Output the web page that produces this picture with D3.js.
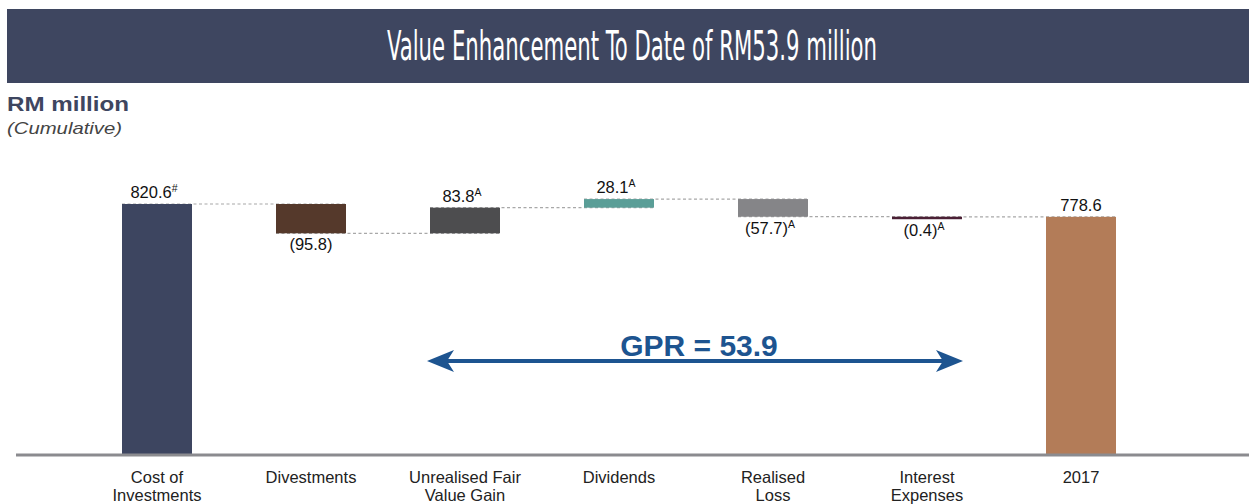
<!DOCTYPE html>
<html>
<head>
<meta charset="utf-8">
<script src="https://cdn.jsdelivr.net/npm/d3@7"></script>
<style>
  html, body { margin: 0; padding: 0; background: #ffffff; }
  svg { display: block; }
</style>
</head>
<body>
<svg id="chart" width="1249" height="504"></svg>
<script>
// ---- data ----
const categories = ["Cost of Investments", "Divestments", "Unrealised Fair Value Gain", "Dividends", "Realised Loss", "Interest Expenses", "2017"];
const categoryLines = [["Cost of", "Investments"], ["Divestments"], ["Unrealised Fair", "Value Gain"], ["Dividends"], ["Realised", "Loss"], ["Interest", "Expenses"], ["2017"]];
const values = [820.6, -95.8, 83.8, 28.1, -57.7, -0.4, 778.6];
const barTypes = ["total", "delta", "delta", "delta", "delta", "delta", "total"];
const valueLabels = ["820.6", "(95.8)", "83.8", "28.1", "(57.7)", "(0.4)", "778.6"];
const superscripts = ["#", "", "A", "A", "A", "A", ""];
const barColors = ["#3d4560", "#55392b", "#4d4d4f", "#5a9e97", "#858588", "#4b2035", "#b37c58"];
const titleText = "Value Enhancement To Date of RM53.9 million";
const unitLabel = "RM million";
const unitSub = "(Cumulative)";
const gprLabel = "GPR = 53.9";

// ---- build waterfall segments ----
let running = 0;
const segs = categories.map((c, i) => {
  let start, end;
  if (barTypes[i] === "total") { start = 0; end = values[i]; running = values[i]; }
  else { start = running; end = running + values[i]; running = end; }
  return { cat: c, i, start, end, lo: Math.min(start, end), hi: Math.max(start, end), v: values[i] };
});

const svg = d3.select("#chart");
const W = 1249, H = 504;

// title banner
svg.append("rect").attr("x", 7).attr("y", 9).attr("width", W - 7).attr("height", 74).attr("fill", "#3e4660");
svg.append("text")
  .attr("x", 632).attr("y", 60)
  .attr("text-anchor", "middle")
  .attr("fill", "#ffffff")
  .attr("font-family", "'Liberation Sans Narrow', 'DejaVu Sans Condensed', 'DejaVu Sans', sans-serif")
  .attr("font-stretch", "condensed")
  .attr("font-size", 40)
  .attr("textLength", 490)
  .attr("lengthAdjust", "spacingAndGlyphs")
  .text(titleText);

svg.append("text").attr("x", 7).attr("y", 111)
  .attr("font-family", "'Liberation Sans', Arial, sans-serif").attr("font-weight", "bold")
  .attr("font-size", 20).attr("fill", "#3e4660")
  .attr("textLength", 122).attr("lengthAdjust", "spacingAndGlyphs")
  .text(unitLabel);
svg.append("text").attr("x", 7).attr("y", 134)
  .attr("font-family", "'Liberation Sans', Arial, sans-serif").attr("font-style", "italic")
  .attr("font-size", 17).attr("fill", "#444")
  .attr("textLength", 115).attr("lengthAdjust", "spacingAndGlyphs")
  .text(unitSub);

// scales
const x = d3.scalePoint().domain(categories).range([157, 1081]);
const bw = 70;
const y = d3.scaleLinear().domain([0, 820.6]).range([455, 204]);

// connectors
const conn = svg.append("g");
segs.slice(0, -1).forEach((s, i) => {
  const lvl = s.end;
  conn.append("line")
    .attr("x1", x(s.cat) - bw / 2).attr("x2", x(categories[i + 1]) + bw / 2)
    .attr("y1", y(lvl)).attr("y2", y(lvl))
    .attr("stroke", "#a8a8a8").attr("stroke-width", 1.2)
    .attr("stroke-dasharray", "3,2.5");
});

// bars
svg.append("g").selectAll("rect").data(segs).join("rect")
  .attr("x", d => x(d.cat) - bw / 2)
  .attr("width", bw)
  .attr("y", d => y(d.hi))
  .attr("height", d => Math.max(2.5, y(d.lo) - y(d.hi)))
  .attr("fill", (d, i) => barColors[i]);

// axis baseline
const axisG = svg.append("g").attr("transform", "translate(0,455)");
const xAxis = d3.axisBottom(x).tickSize(0).tickFormat("");
axisG.call(xAxis);
axisG.select(".domain").remove();
axisG.append("line").attr("x1", 16).attr("x2", W).attr("y1", 0).attr("y2", 0)
  .attr("stroke", "#8b8b8f").attr("stroke-width", 3);

// category labels
const catG = svg.append("g");
categoryLines.forEach((lines, i) => {
  const t = catG.append("text").attr("x", x(categories[i])).attr("y", 483)
    .attr("text-anchor", "middle")
    .attr("font-family", "'Liberation Sans', Arial, sans-serif")
    .attr("font-size", 16.5).attr("fill", "#222");
  lines.forEach((ln, k) => {
    t.append("tspan").attr("x", x(categories[i])).attr("dy", k === 0 ? 0 : 18).text(ln);
  });
});

// value labels
const labG = svg.append("g");
segs.forEach((s, i) => {
  const up = s.v >= 0;
  const yy = up ? y(s.hi) - 6 : Math.max(y(s.lo), y(s.hi) + 2.5) + 17;
  const t = labG.append("text").attr("x", x(s.cat) + (superscripts[i] ? -3 : 0)).attr("y", yy)
    .attr("text-anchor", "middle")
    .attr("font-family", "'Liberation Sans', Arial, sans-serif")
    .attr("font-size", 16.5).attr("fill", "#111");
  t.append("tspan").text(valueLabels[i]);
  if (superscripts[i]) {
    t.append("tspan").attr("dy", -6).attr("font-size", 10.5).text(superscripts[i]);
  }
});

// GPR arrow
const ax1 = x(categories[2]) - bw / 2 - 3;
const ax2 = x(categories[5]) + bw / 2 + 1;
const ay = 361;
const blue = "#1d5490";
svg.append("line").attr("x1", ax1 + 15).attr("x2", ax2 - 15).attr("y1", ay).attr("y2", ay)
  .attr("stroke", blue).attr("stroke-width", 4);
svg.append("path")
  .attr("d", `M${ax1},${ay} L${ax1 + 27},${ay - 11} L${ax1 + 20},${ay} L${ax1 + 27},${ay + 11} Z`)
  .attr("fill", blue);
svg.append("path")
  .attr("d", `M${ax2},${ay} L${ax2 - 27},${ay - 11} L${ax2 - 20},${ay} L${ax2 - 27},${ay + 11} Z`)
  .attr("fill", blue);
svg.append("text").attr("x", (ax1 + ax2) / 2 + 4).attr("y", 356)
  .attr("text-anchor", "middle")
  .attr("font-family", "'Liberation Sans', Arial, sans-serif")
  .attr("font-weight", "bold").attr("font-size", 30).attr("fill", blue)
  .text(gprLabel);
</script>
</body>
</html>
